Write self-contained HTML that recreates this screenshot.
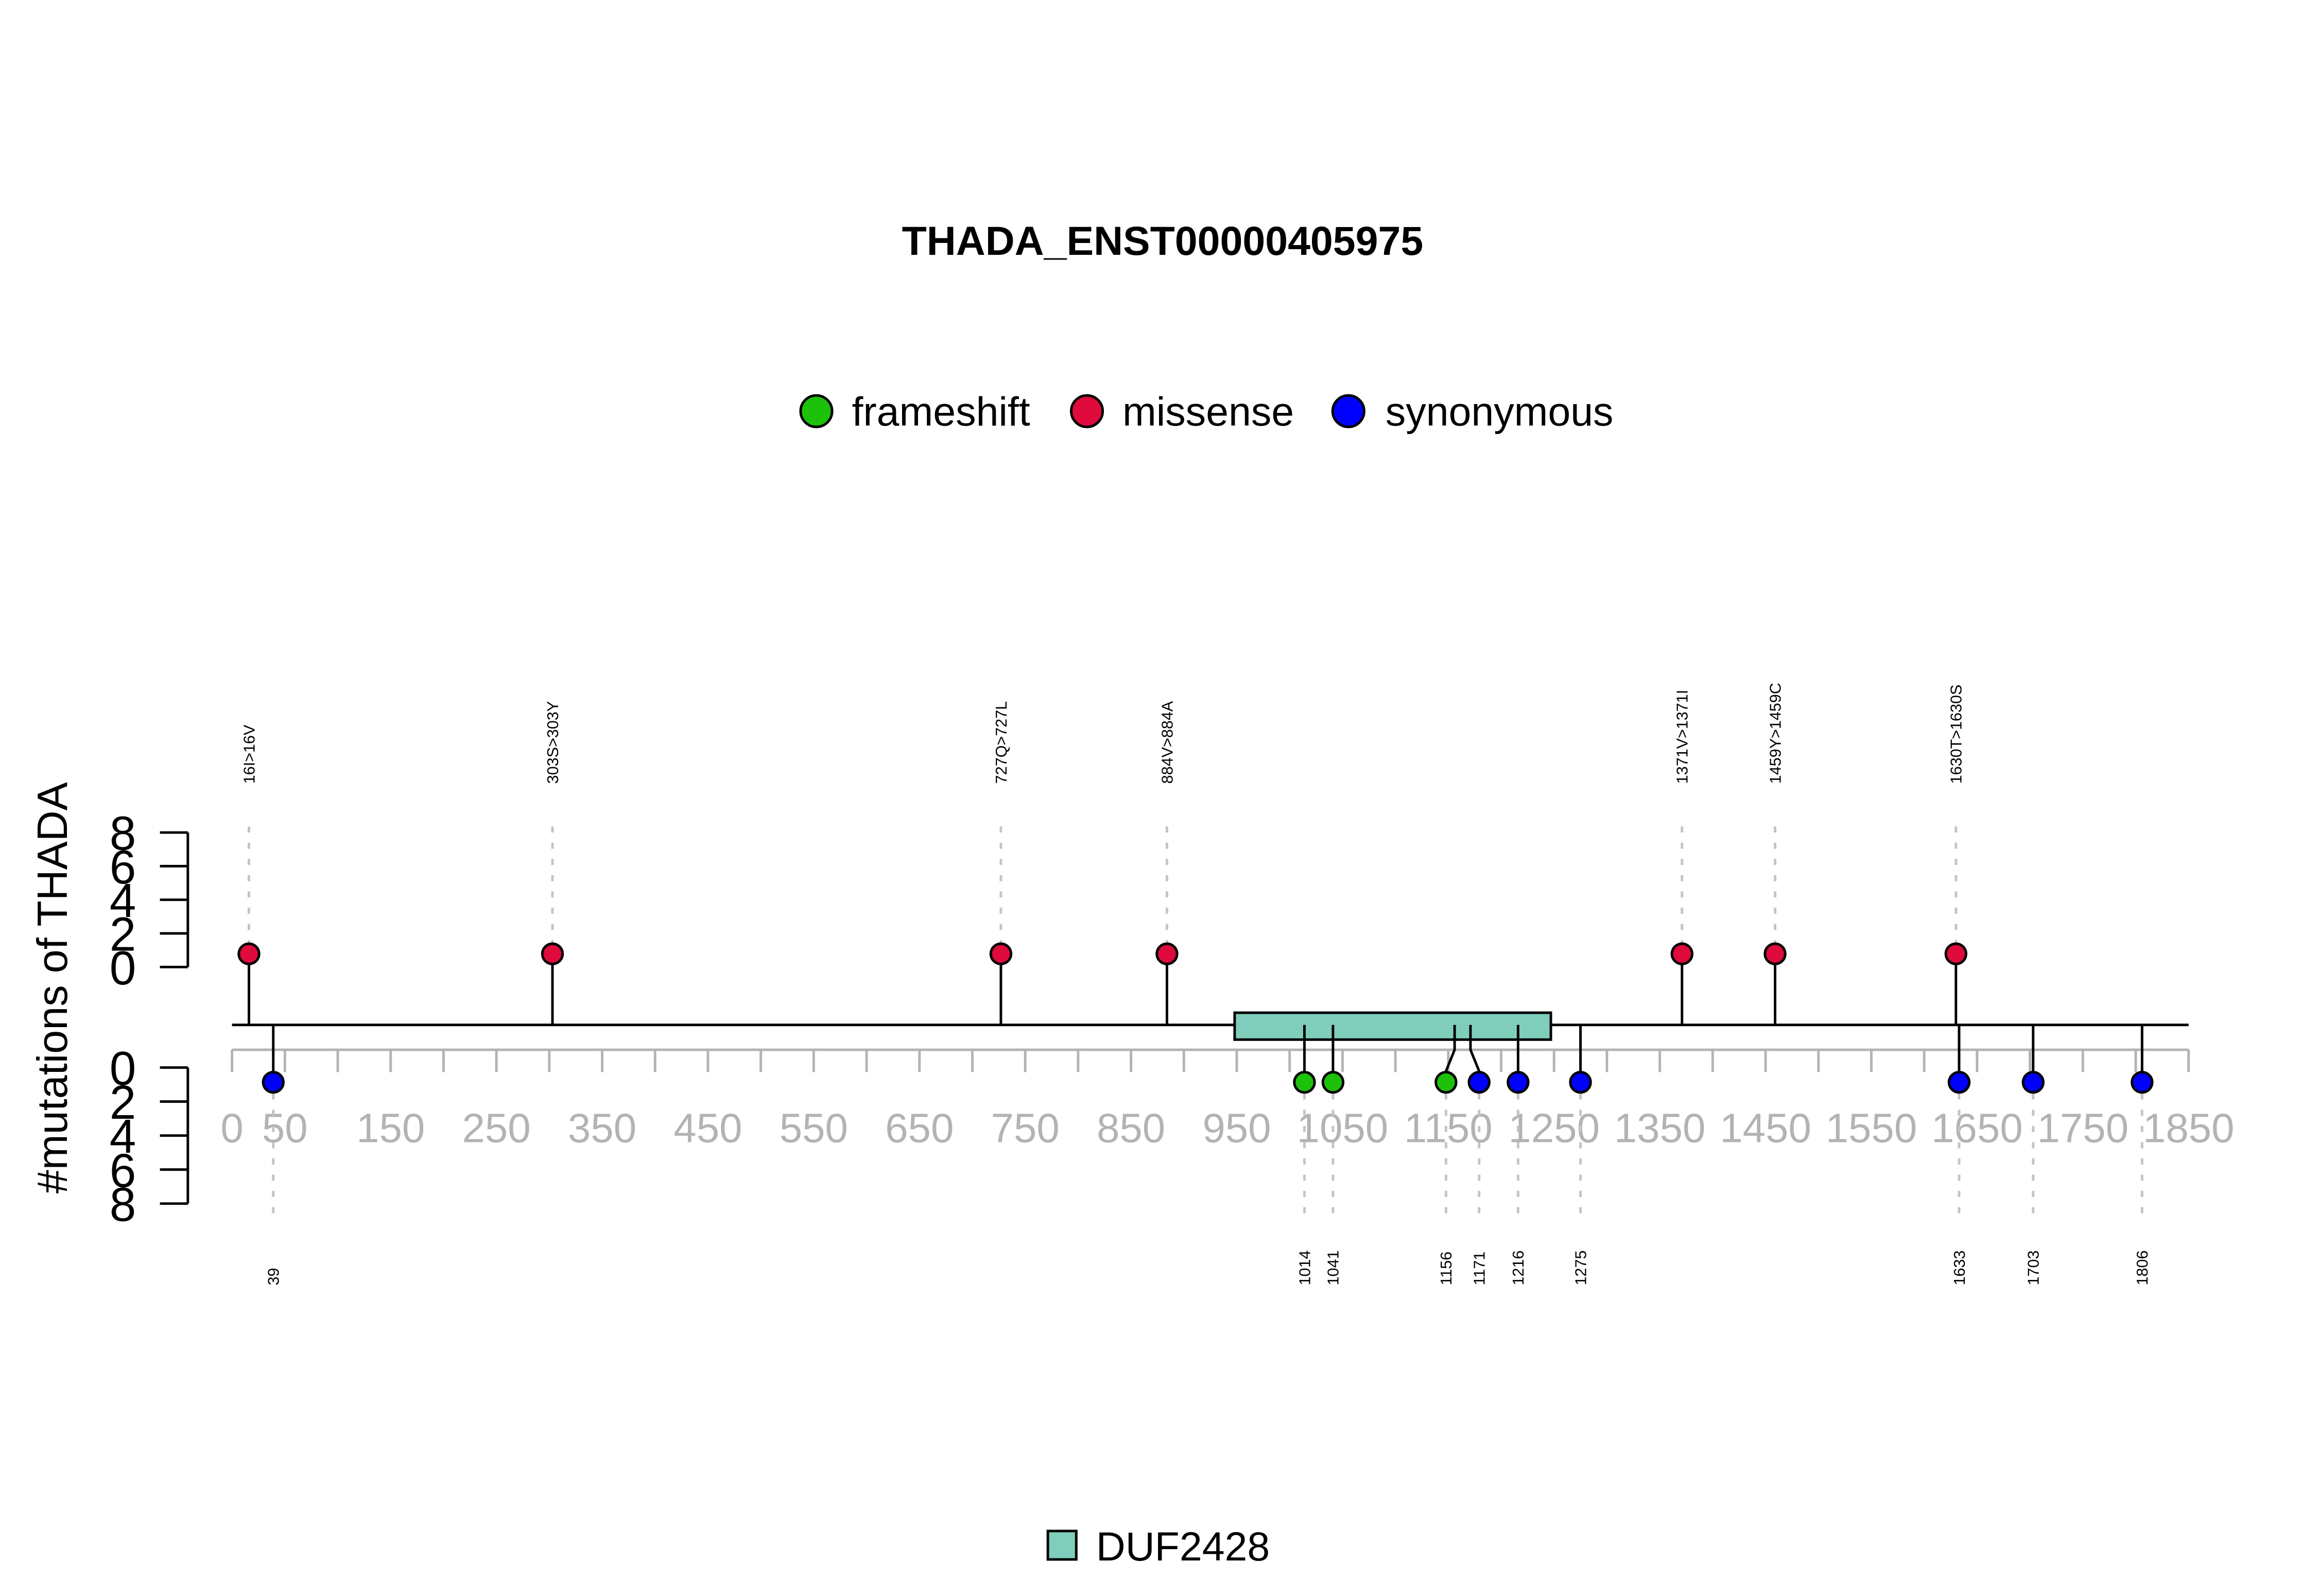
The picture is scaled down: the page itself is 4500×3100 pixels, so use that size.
<!DOCTYPE html>
<html><head><meta charset="utf-8"><style>
html,body{margin:0;padding:0;background:#fff;}
svg{display:block;font-family:"Liberation Sans",Arial,sans-serif;}
</style></head><body>
<svg id="chart" width="4500" height="3100" viewBox="0 0 4500 3100" xmlns="http://www.w3.org/2000/svg">
<rect width="4500" height="3100" fill="#fff"/>
<g transform="scale(0.986)">
<text x="2290" y="502" font-size="80" font-weight="bold" text-anchor="middle">THADA_ENST00000405975</text>
<g>
 <g><circle cx="1608" cy="810" r="31" fill="#1DC10A" stroke="#000" stroke-width="5"/><text x="1678" y="838" font-size="80">frameshift</text></g>
 <g><circle cx="2141" cy="810" r="31" fill="#DE0B3C" stroke="#000" stroke-width="5"/><text x="2211" y="838" font-size="80">missense</text></g>
 <g><circle cx="2656" cy="810" r="31" fill="#0000FF" stroke="#000" stroke-width="5"/><text x="2729" y="838" font-size="80">synonymous</text></g>
</g>
<text transform="translate(132,1946) rotate(-90)" font-size="84" text-anchor="middle">#mutations of THADA</text>
<g id="plot"></g>
<g>
 <rect x="2064" y="3016" width="56" height="56" fill="#7FCDBB" stroke="#000" stroke-width="5"/>
 <text x="2159" y="3074" font-size="80">DUF2428</text>
</g>
</g>
</svg>
<script>
const xTicks = [0,50,100,150,200,250,300,350,400,450,500,550,600,650,700,750,800,850,900,950,1000,1050,1100,1150,1200,1250,1300,1350,1400,1450,1500,1550,1600,1650,1700,1750,1800,1850];
const xTickLabels = ["0","50","150","250","350","450","550","650","750","850","950","1050","1150","1250","1350","1450","1550","1650","1750","1850"];
const yTicks = [0,2,4,6,8];
const upPos = [16,303,727,884,1371,1459,1630];
const upLabels = ["16I>16V","303S>303Y","727Q>727L","884V>884A","1371V>1371I","1459Y>1459C","1630T>1630S"];
const upType = ["missense","missense","missense","missense","missense","missense","missense"];
const upCount = [1,1,1,1,1,1,1];
const downPos = [39,1014,1041,1156,1171,1216,1275,1633,1703,1806];
const downLabels = ["39","1014","1041","1156","1171","1216","1275","1633","1703","1806"];
const downType = ["synonymous","frameshift","frameshift","frameshift","synonymous","synonymous","synonymous","synonymous","synonymous","synonymous"];
const downCount = [1,1,1,1,1,1,1,1,1,1];
const domainStart = [948];
const domainEnd = [1247];
const domainName = ["DUF2428"];

const colors = {missense:"#DE0B3C", frameshift:"#1DC10A", synonymous:"#0000FF"};
const NS = "http://www.w3.org/2000/svg";
const X0 = 457, XS = (4311-457)/1850;
const xs = v => X0 + v*XS;
const BACK = 2019, AXL = 2068;
const upY = c => 1905 - c*26;
const downY = c => 2106 + c*26;
const yUp = v => 1905 - v*(265/8);
const yDown = v => 2103 + v*(268/8);
const g = document.getElementById('plot');
function mk(tag, attrs, parent){const e=document.createElementNS(NS,tag);for(const k in attrs)e.setAttribute(k,attrs[k]);(parent||g).appendChild(e);return e;}

const ya = mk('g',{});


[[yUp,'upper'],[yDown,'lower']].forEach(([f,nm])=>{
  const ax = mk('g',{},ya);
  
  
  mk('line',{x1:370,x2:370,y1:f(0),y2:f(8),stroke:'#000','stroke-width':5},ax);
  yTicks.forEach(t=>{
    mk('line',{x1:315,x2:370,y1:f(t),y2:f(t),stroke:'#000','stroke-width':5},ax);
    const tx = mk('text',{x:268,y:f(t)+34,'font-size':94,'text-anchor':'end'},ax);
    tx.textContent = t;
  });
});

const xa = mk('g',{});


mk('line',{x1:xs(0),x2:xs(1850),y1:AXL,y2:AXL,stroke:'#b3b3b3','stroke-width':5},xa);
xTicks.forEach(t=>mk('line',{x1:xs(t),x2:xs(t),y1:AXL,y2:2112,stroke:'#b3b3b3','stroke-width':5},xa));
xTickLabels.forEach(l=>{
  const tx = mk('text',{x:xs(+l),y:2250,'font-size':81,fill:'#b3b3b3','text-anchor':'middle'},xa);
  tx.textContent = l;
});

const bb = mk('line',{x1:xs(0),x2:xs(1850),y1:BACK,y2:BACK,stroke:'#000','stroke-width':5});



upPos.forEach((p,i)=>{
  const x = xs(p), cy = upY(upCount[i]);
  const grp = mk('g',{});
  
  
  mk('line',{x1:x,x2:x,y1:1628,y2:cy-22,stroke:'#c4c4c4','stroke-width':5,'stroke-dasharray':'12,20'},grp);
  mk('line',{x1:x,x2:x,y1:BACK,y2:cy,stroke:'#000','stroke-width':5},grp);
  mk('circle',{cx:x,cy:cy,r:20,fill:colors[upType[i]],stroke:'#000','stroke-width':5},grp);
  const tx = mk('text',{transform:`translate(${x+11},1544) rotate(-90)`,'font-size':31},grp);
  tx.textContent = upLabels[i];
});

domainStart.forEach((s,i)=>{
  const r = mk('rect',{x:xs(s),y:1995,width:xs(domainEnd[i])-xs(s),height:53,fill:'#7FCDBB',stroke:'#000','stroke-width':5});
  
  
});

const shift = {1156:-17,1171:17};
downPos.forEach((p,i)=>{
  const x = xs(p), cy = downY(downCount[i]);
  const cx = x + (shift[p]||0);
  const grp = mk('g',{});
  
  
  mk('line',{x1:cx,x2:cx,y1:cy+22,y2:2392,stroke:'#c4c4c4','stroke-width':5,'stroke-dasharray':'12,20'},grp);
  if(shift[p]) mk('polyline',{points:`${x},${BACK} ${x},${AXL} ${cx},${2110} ${cx},${cy}`,fill:'none',stroke:'#000','stroke-width':5},grp);
  else mk('line',{x1:x,x2:x,y1:BACK,y2:cy,stroke:'#000','stroke-width':5},grp);
  mk('circle',{cx:cx,cy:cy,r:20,fill:colors[downType[i]],stroke:'#000','stroke-width':5},grp);
  const tx = mk('text',{transform:`translate(${cx+11},2532) rotate(-90)`,'font-size':31},grp);
  tx.textContent = downLabels[i];
});
</script>
</body></html>
